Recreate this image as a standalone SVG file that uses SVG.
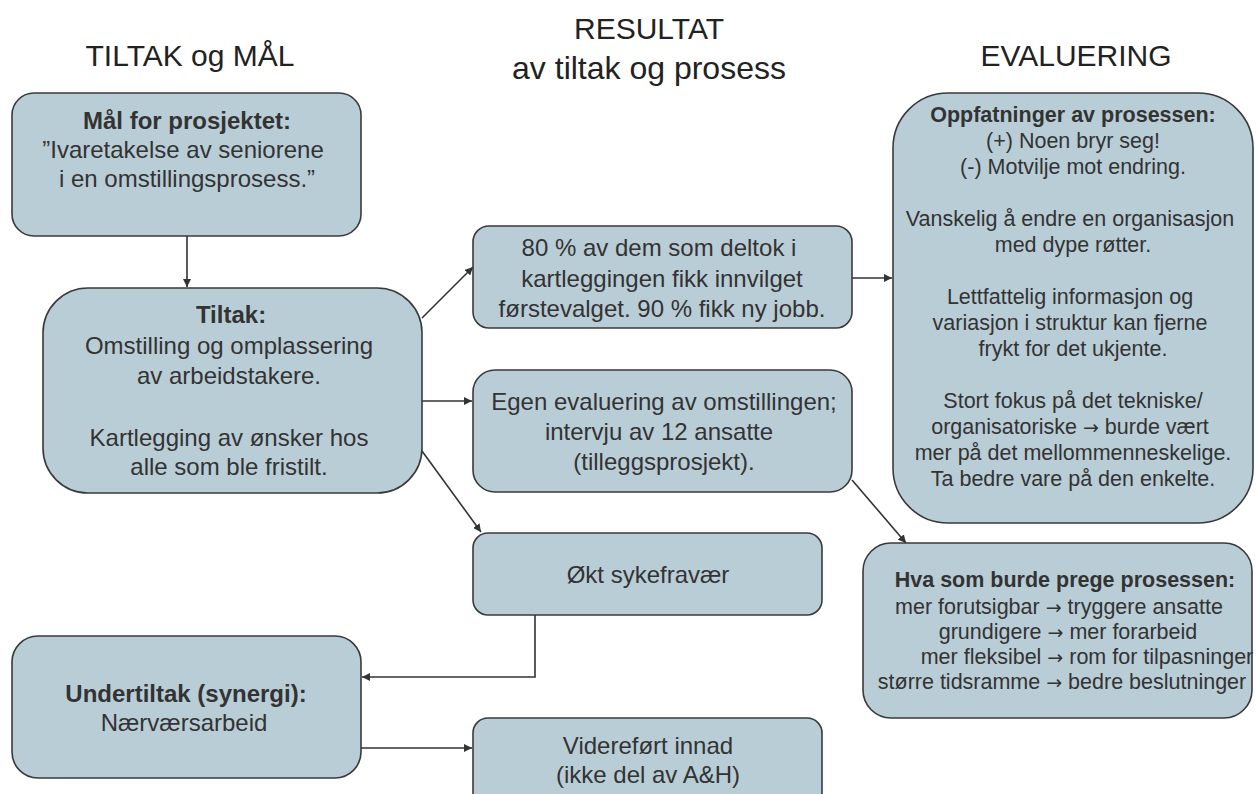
<svg xmlns="http://www.w3.org/2000/svg" width="1256" height="794" viewBox="0 0 1256 794">
  <style>
    .box { fill: #b9cdd7; stroke: #3a3a3a; stroke-width: 1.6; }
    .t { font-family: "Liberation Sans", Arial, sans-serif; fill: #333333; text-anchor: middle; }
    .title { font-size: 30px; fill: #222222; }
    .b25 { font-size: 24px; }
    .b21 { font-size: 21.5px; }
    .bold { font-weight: bold; }
    .arr { font-family: "DejaVu Sans", sans-serif; font-size: 19px; }
    .conn { stroke: #333333; stroke-width: 1.6; fill: none; marker-end: url(#arrow); }
  </style>
  <defs>
    <marker id="arrow" viewBox="0 0 10 10" refX="10" refY="5" markerWidth="8" markerHeight="8" markerUnits="userSpaceOnUse" orient="auto">
      <path d="M0,0 L10,5 L0,10 z" fill="#333333"/>
    </marker>
  </defs>
  <rect width="1256" height="794" fill="#ffffff"/>

  <!-- column headings -->
  <g id="headings">
    <text class="t title" x="190" y="66">TILTAK og MÅL</text>
    <text class="t title" x="649" y="39">RESULTAT</text>
    <text class="t title" x="649" y="79" style="font-size:32px">av tiltak og prosess</text>
    <text class="t title" x="1076" y="66">EVALUERING</text>
  </g>

  <!-- connectors -->
  <g id="connectors">
    <line class="conn" x1="187" y1="236" x2="187" y2="287"/>
    <line class="conn" x1="422" y1="318" x2="473" y2="267"/>
    <line class="conn" x1="422" y1="401" x2="472" y2="401"/>
    <line class="conn" x1="422" y1="451" x2="481" y2="532"/>
    <line class="conn" x1="852" y1="278" x2="892" y2="278"/>
    <line class="conn" x1="852" y1="480" x2="906" y2="543"/>
    <polyline class="conn" points="535,615 535,677 362,677"/>
    <line class="conn" x1="361" y1="748" x2="472" y2="748"/>
  </g>

  <g id="mal">
    <rect class="box" x="12" y="93" width="349" height="143" rx="22"/>
    <text class="t b25 bold" x="187" y="129">Mål for prosjektet:</text>
    <text class="t b25" x="183" y="158">”Ivaretakelse av seniorene</text>
    <text class="t b25" x="187" y="187">i en omstillingsprosess.”</text>
  </g>

  <g id="tiltak">
    <rect class="box" x="43" y="288" width="379" height="205" rx="45"/>
    <text class="t b25 bold" x="231" y="323">Tiltak:</text>
    <text class="t b25" x="229" y="354">Omstilling og omplassering</text>
    <text class="t b25" x="229" y="384">av arbeidstakere.</text>
    <text class="t b25" x="229" y="446">Kartlegging av ønsker hos</text>
    <text class="t b25" x="229" y="475">alle som ble fristilt.</text>
  </g>

  <g id="resultat-kartlegging">
    <rect class="box" x="473" y="226" width="379" height="102" rx="16"/>
    <text class="t b25" x="659" y="256">80 % av dem som deltok i</text>
    <text class="t b25" x="662" y="287">kartleggingen fikk innvilget</text>
    <text class="t b25" x="662" y="317">førstevalget. 90 % fikk ny jobb.</text>
  </g>

  <g id="resultat-evaluering">
    <rect class="box" x="473" y="370" width="379" height="122" rx="22"/>
    <text class="t b25" x="664" y="410">Egen evaluering av omstillingen;</text>
    <text class="t b25" x="659" y="440">intervju av 12 ansatte</text>
    <text class="t b25" x="664" y="470">(tilleggsprosjekt).</text>
  </g>

  <g id="resultat-sykefravaer">
    <rect class="box" x="473" y="533" width="349" height="82" rx="15"/>
    <text class="t b25" x="648" y="583">Økt sykefravær</text>
  </g>

  <g id="undertiltak">
    <rect class="box" x="12" y="636" width="349" height="142" rx="26"/>
    <text class="t b25 bold" x="186" y="702">Undertiltak (synergi):</text>
    <text class="t b25" x="184" y="731">Nærværsarbeid</text>
  </g>

  <g id="viderefort">
    <rect class="box" x="473" y="718" width="349" height="90" rx="15"/>
    <text class="t b25" x="648" y="754">Videreført innad</text>
    <text class="t b25" x="648" y="783">(ikke del av A&amp;H)</text>
  </g>

  <g id="oppfatninger">
    <rect class="box" x="893" y="93" width="360" height="430" rx="55"/>
    <text class="t b21 bold" x="1073" y="122">Oppfatninger av prosessen:</text>
    <text class="t b21" x="1073" y="148">(+) Noen bryr seg!</text>
    <text class="t b21" x="1073" y="174">(-) Motvilje mot endring.</text>
    <text class="t b21" x="1070" y="226">Vanskelig å endre en organisasjon</text>
    <text class="t b21" x="1073" y="252">med dype røtter.</text>
    <text class="t b21" x="1070" y="304">Lettfattelig informasjon og</text>
    <text class="t b21" x="1070" y="330">variasjon i struktur kan fjerne</text>
    <text class="t b21" x="1073" y="356">frykt for det ukjente.</text>
    <text class="t b21" x="1073" y="408">Stort fokus på det tekniske/</text>
    <text class="t b21" x="1070" y="434">organisatoriske <tspan class="arr">→</tspan> burde vært</text>
    <text class="t b21" x="1073" y="460">mer på det mellommenneskelige.</text>
    <text class="t b21" x="1073" y="486">Ta bedre vare på den enkelte.</text>
  </g>

  <g id="hva-som-burde">
    <rect class="box" x="863" y="543" width="389" height="175" rx="28"/>
    <text class="t b21 bold" x="1065" y="587">Hva som burde prege prosessen:</text>
    <text class="t b21" x="1059" y="614">mer forutsigbar <tspan class="arr">→</tspan> tryggere ansatte</text>
    <text class="t b21" x="1068" y="639">grundigere <tspan class="arr">→</tspan> mer forarbeid</text>
    <text class="t b21" x="1087" y="664">mer fleksibel <tspan class="arr">→</tspan> rom for tilpasninger</text>
    <text class="t b21" x="1062" y="689">større tidsramme <tspan class="arr">→</tspan> bedre beslutninger</text>
  </g>
</svg>
